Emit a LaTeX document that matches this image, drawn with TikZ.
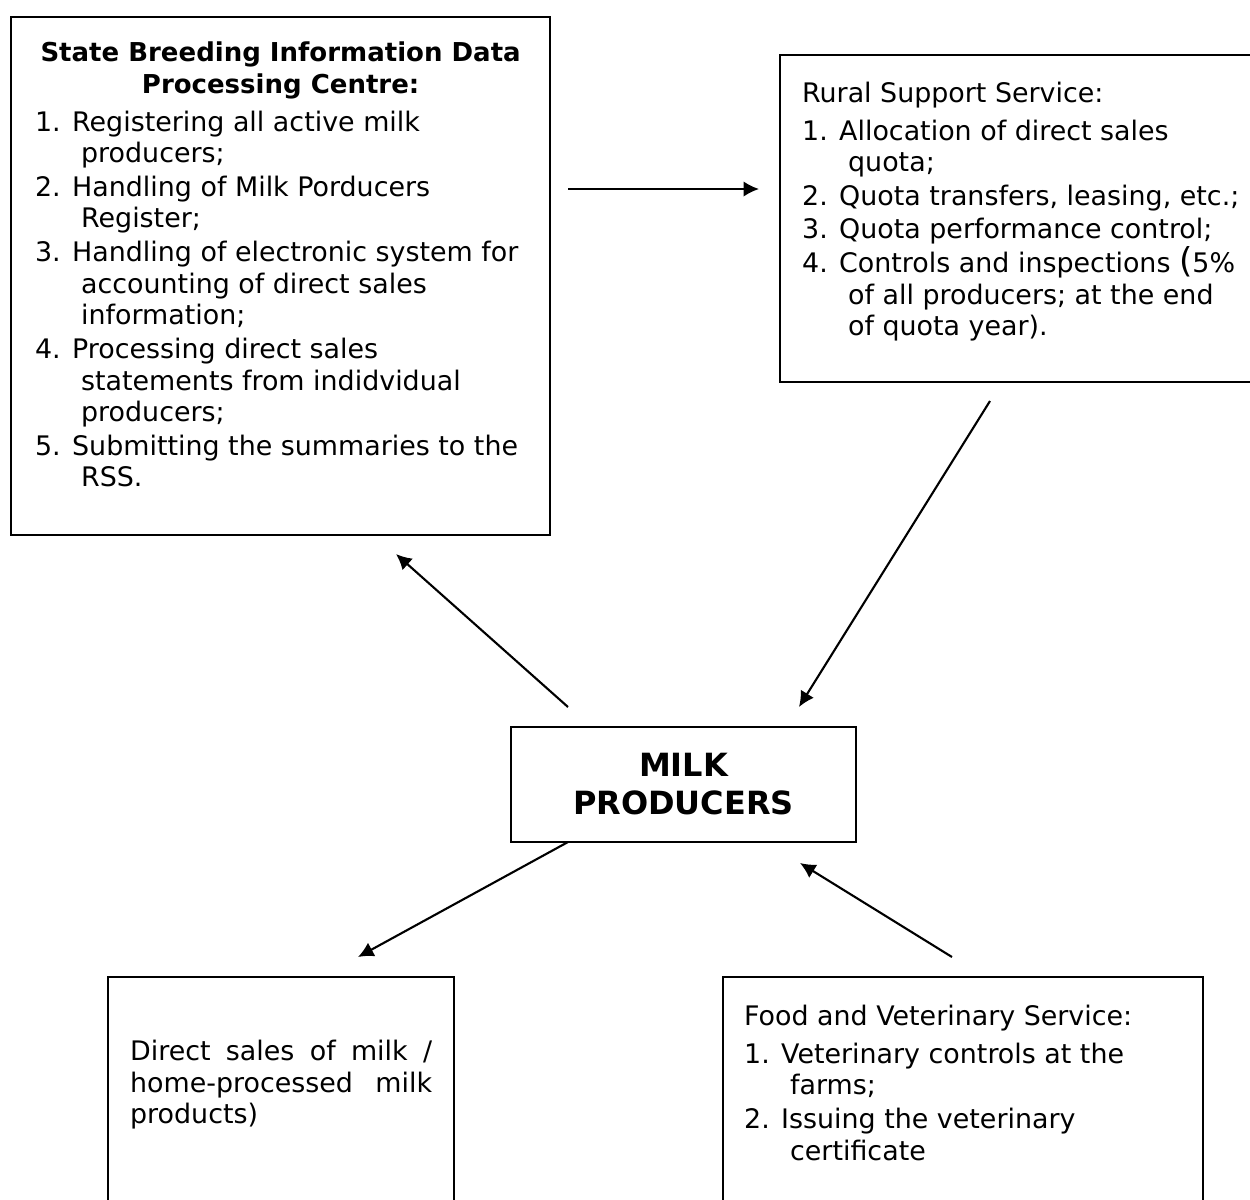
\documentclass[tikz,border=0pt]{standalone}
\usepackage{fontspec}
\setmainfont{DejaVu Sans}
\usetikzlibrary{arrows.meta}

\newcommand{\indline}{\hspace*{9.2mm}}

\begin{document}
\begin{tikzpicture}[x = 0.2mm, y = -0.2mm, box/.style = {rectangle, draw = black, line width = 1.3pt, anchor = north west, inner sep = 0pt}, link/.style = {-{Latex[length = 3.1mm, width = 3.1mm]}, line width = 1.2pt}, font = \fontsize{15.3}{18}\selectfont]

	\useasboundingbox (0, 0) rectangle (1250, 1199);

	\node [box, inner xsep = 4.8mm, inner ysep = 5mm] (sbidc) at (10, 16) {\parbox[c][93.6mm][t]{98.2mm}{%
		{\centering\fontsize{14.8}{18}\selectfont\bfseries State Breeding Information Data\\
		Processing Centre:\\[3.4pt]}
		\raggedright
		1. Registering all active milk\\
		\indline producers;\\[1.1pt]
		2. Handling of Milk Porducers\\
		\indline Register;\\[1.1pt]
		3. Handling of electronic system for\\
		\indline accounting of direct sales\\
		\indline information;\\[1.1pt]
		4. Processing direct sales\\
		\indline statements from indidvidual\\
		\indline producers;\\[1.1pt]
		5. Submitting the summaries to the\\
		\indline RSS.}};

	\node [box, inner xsep = 4.4mm, inner ysep = 5.4mm] (rss) at (779, 54) {\parbox[c][54.6mm][t]{92mm}{%
		\raggedright
		Rural Support Service:\\[3.4pt]
		1. Allocation of direct sales\\
		\indline quota;\\[1.1pt]
		2. Quota transfers, leasing, etc.;\\[1.1pt]
		3. Quota performance control;\\[1.1pt]
		4. Controls and inspections {\fontsize{19.5}{18}\selectfont(}5\%\\
		\indline of all producers; at the end\\
		\indline of quota year).}};

	\node [box, anchor = center, minimum width = 69mm, minimum height = 23mm, align = center, font = \fontsize{18.2}{21.6}\selectfont\bfseries] (milk) at (683.5, 784.5) {MILK\\ PRODUCERS};

	\node [box, inner xsep = 4.4mm, inner ysep = 12.6mm] (direct) at (107, 976) {\parbox[c][20.8mm][t]{60.4mm}{%
		\tolerance = 10000 Direct sales of milk /\linebreak home-processed milk\linebreak products)}};

	\node [box, inner xsep = 4.2mm, inner ysep = 5.6mm] (fvs) at (722, 976) {\parbox[c][34.8mm][t]{87.6mm}{%
		\raggedright
		Food and Veterinary Service:\\[3.4pt]
		1. Veterinary controls at the\\
		\indline farms;\\[1.1pt]
		2. Issuing the veterinary\\
		\indline certificate}};

	\coordinate (sbidc right) at (568, 189);
	\coordinate (rss left) at (759, 189);
	\coordinate (milk above l) at (568, 707);
	\coordinate (sbidc below) at (396, 554);
	\coordinate (rss below) at (990, 401);
	\coordinate (milk above r) at (799, 707);
	\coordinate (milk below l) at (568, 842);
	\coordinate (direct above) at (358, 957);
	\coordinate (fvs above) at (952, 957);
	\coordinate (milk below r) at (800, 863);

	\draw [link] (sbidc right) -- (rss left);
	\draw [link] (milk above l) -- (sbidc below);
	\draw [link] (rss below) -- (milk above r);
	\draw [link] (milk below l) -- (direct above);
	\draw [link] (fvs above) -- (milk below r);

\end{tikzpicture}
\end{document}
